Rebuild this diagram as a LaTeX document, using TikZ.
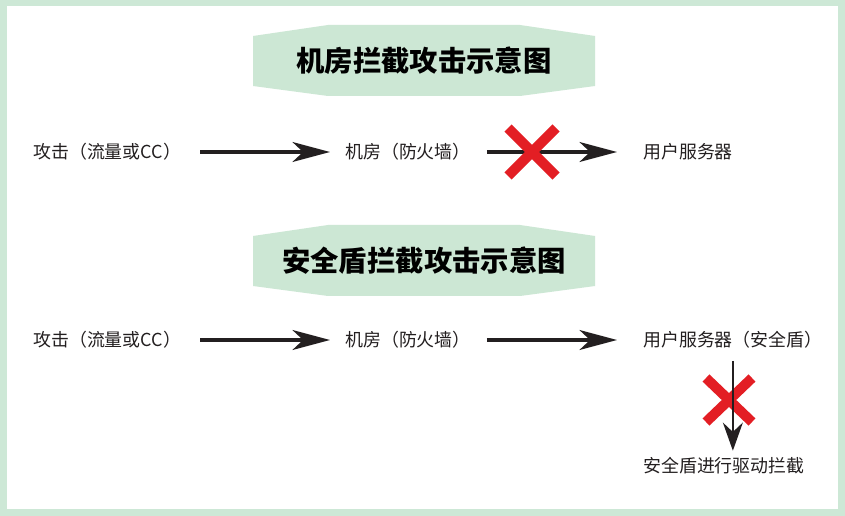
\documentclass[tikz,border=0pt]{standalone}
\usepackage{fontspec}
\setmainfont{Noto Sans CJK SC}
\usepackage{tikz}
\usetikzlibrary{arrows.meta,positioning,calc}

\definecolor{framegreen}{HTML}{CDE8D6}
\definecolor{bandgreen}{HTML}{CCE7D4}
\definecolor{crossred}{HTML}{E31E24}
\definecolor{txtgray}{HTML}{231F20}

\begin{document}
\begin{tikzpicture}[x=0.03cm, y=-0.03cm,
  label/.style={anchor=west, inner sep=0pt, font=\fontsize{15.3pt}{18pt}\selectfont, text=txtgray},
  title/.style={inner sep=0pt, font=\fontsize{24.2pt}{28pt}\selectfont\bfseries, text=black},
  band/.style={fill=bandgreen},
  flow/.style={-{Stealth[length=32pt, width=17pt, inset=9pt]}, line width=2.6pt, txtgray},
  drop/.style={-{Stealth[length=24pt, width=17pt, inset=8pt]}, line width=2.2pt, txtgray},
  block/.style={crossred, line width=8.5pt}
]

% Frame
\fill[framegreen] (0,0) rectangle (845,516);
\fill[white] (7,6) rectangle (838,509);
\useasboundingbox (0,0) rectangle (845,516);

% Banners
\coordinate (b1) at (424,61);
\coordinate (b2) at (424,261);
\foreach \b in {b1, b2} {
  \fill[band] (\b) ++(-171,-25) -- ++(75,-11) -- ++(192,0) -- ++(75,11)
    -- ++(0,50) -- ++(-75,10) -- ++(-192,0) -- ++(-75,-10) -- cycle;
}
\node[title] (t1) at (b1) {机房拦截攻击示意图};
\node[title] (t2) at (b2) {安全盾拦截攻击示意图};

% Row 1
\node[label] (atk1) at (33,152)  {攻击（流量或CC）};
\node[label] (fw1)  at (345,152) {机房（防火墙）};
\node[label] (srv1) at (643,152) {用户服务器};

\draw[flow, shorten <=0.57cm, shorten >=0.45cm] (atk1.east) -- (fw1.west);
\draw[flow, shorten <=0.48cm, shorten >=0.78cm] (fw1.east) -- (srv1.west);

\coordinate (x1) at (532,152);
\draw[block] (x1) ++(-24,-24) -- ++(48,48);
\draw[block] (x1) ++(24,-24) -- ++(-48,48);

% Row 2
\node[label] (atk2) at (33,340)  {攻击（流量或CC）};
\node[label] (fw2)  at (345,340) {机房（防火墙）};
\node[label] (srv2) at (643,340) {用户服务器（安全盾）};
\node[label] (stop) at (643,466) {安全盾进行驱动拦截};

\draw[flow, shorten <=0.57cm, shorten >=0.45cm] (atk2.east) -- (fw2.west);
\draw[flow, shorten <=0.48cm, shorten >=0.78cm] (fw2.east) -- (srv2.west);

\coordinate (x2) at (729,400);
\draw[block] (x2) ++(-23,-22) -- ++(46,44);
\draw[block] (x2) ++(23,-22) -- ++(-46,44);

\draw[drop, shorten <=0.36cm, shorten >=0.2cm] (srv2.south) -- (srv2.south |- stop.north);

\end{tikzpicture}
\end{document}
